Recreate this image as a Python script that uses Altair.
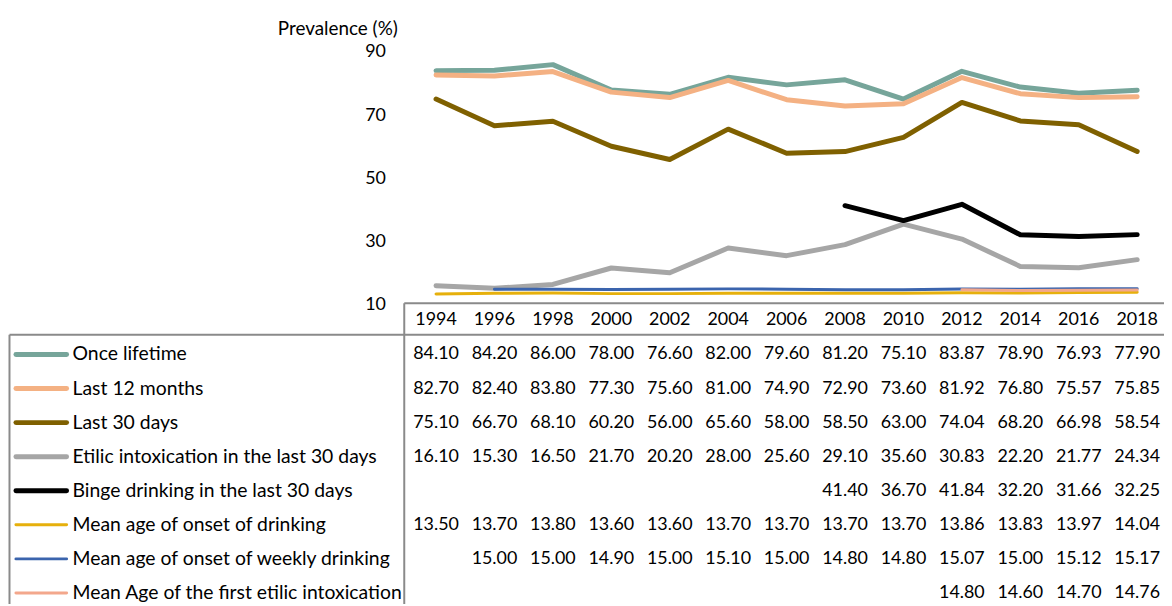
import altair as alt
import pandas as pd

# ---------------- data ----------------
years = [1994, 1996, 1998, 2000, 2002, 2004, 2006, 2008, 2010, 2012, 2014, 2016, 2018]

series_names = [
    "Once lifetime",
    "Last 12 months",
    "Last 30 days",
    "Etilic intoxication in the last 30 days",
    "Binge drinking in the last 30 days",
    "Mean age of onset of drinking",
    "Mean age of onset of weekly drinking",
    "Mean Age of the first etilic intoxication",
]

once_lifetime = [84.10, 84.20, 86.00, 78.00, 76.60, 82.00, 79.60, 81.20, 75.10, 83.87, 78.90, 76.93, 77.90]
last_12_months = [82.70, 82.40, 83.80, 77.30, 75.60, 81.00, 74.90, 72.90, 73.60, 81.92, 76.80, 75.57, 75.85]
last_30_days = [75.10, 66.70, 68.10, 60.20, 56.00, 65.60, 58.00, 58.50, 63.00, 74.04, 68.20, 66.98, 58.54]
etilic_30_days = [16.10, 15.30, 16.50, 21.70, 20.20, 28.00, 25.60, 29.10, 35.60, 30.83, 22.20, 21.77, 24.34]
binge_30_days = [None, None, None, None, None, None, None, 41.40, 36.70, 41.84, 32.20, 31.66, 32.25]
onset_drinking = [13.50, 13.70, 13.80, 13.60, 13.60, 13.70, 13.70, 13.70, 13.70, 13.86, 13.83, 13.97, 14.04]
onset_weekly = [None, 15.00, 15.00, 14.90, 15.00, 15.10, 15.00, 14.80, 14.80, 15.07, 15.00, 15.12, 15.17]
first_intoxication = [None, None, None, None, None, None, None, None, None, 14.80, 14.60, 14.70, 14.76]

series_values = [once_lifetime, last_12_months, last_30_days, etilic_30_days,
                 binge_30_days, onset_drinking, onset_weekly, first_intoxication]

series_colors = ["#76A59A", "#F4B183", "#7F6000", "#A6A6A6",
                 "#000000", "#E6B00C", "#3B64AD", "#F3A78C"]
series_widths = [5, 5, 5, 5, 5, 3, 3, 3]

y_ticks = [10, 30, 50, 70, 90]

# ---------------- tables ----------------
rows = []
for i, (name, vals) in enumerate(zip(series_names, series_values)):
    for yr, v in zip(years, vals):
        if v is not None:
            rows.append({"series": name, "year": yr, "value": v, "row": i + 1,
                         "w": series_widths[i]})
long_df = pd.DataFrame(rows)

legend_df = pd.DataFrame({"series": series_names,
                          "row": list(range(1, len(series_names) + 1)),
                          "w": series_widths})
header_df = pd.DataFrame({"year": years, "row": [0] * len(years)})

FONT = "Lato"
W, H = 1164, 598

x_scale = alt.Scale(domain=[1979.349, 2018.918], nice=False, zero=False)
y_scale = alt.Scale(domain=[-84.51, 103.25], nice=False, zero=False)
row_scale = alt.Scale(domain=[-9.111, 8.323], nice=False, zero=False, reverse=True)
color_scale = alt.Scale(domain=series_names, range=series_colors)

y_axis = alt.Axis(values=y_ticks, grid=False, domain=False, ticks=False, tickSize=0,
                  labelPadding=20, offset=-400, labelFont=FONT, labelFontSize=18,
                  labelColor="black", title="Prevalence (%)", titleAngle=0,
                  titleAlign="right", titleBaseline="middle", titleX=-8, titleY=19,
                  titleFont=FONT, titleFontSize=19, titleFontWeight="normal",
                  titleColor="black")

# ---------------- lines (one layer per series to keep draw order) ----------------
line_layers = []
for name in series_names:
    line_layers.append(
        alt.Chart(long_df).transform_filter(alt.datum.series == name)
        .mark_line(strokeCap="round", strokeJoin="round")
        .encode(
            x=alt.X("year:Q", scale=x_scale, axis=None),
            y=alt.Y("value:Q", scale=y_scale, axis=y_axis),
            color=alt.Color("series:N", scale=color_scale, legend=None),
            strokeWidth=alt.StrokeWidth("w:Q", scale=None, legend=None),
        )
    )
lines = alt.layer(*line_layers)

# ---------------- data table ----------------
text_kw = dict(font=FONT, fontSize=18, color="black", baseline="middle")

header_text = alt.Chart(header_df).mark_text(align="center", **text_kw).encode(
    x=alt.X("year:Q", scale=x_scale, axis=None),
    y=alt.Y("row:Q", scale=row_scale, axis=None),
    text=alt.Text("year:N"),
)

value_text = alt.Chart(long_df).mark_text(align="center", **text_kw).encode(
    x=alt.X("year:Q", scale=x_scale, axis=None),
    y=alt.Y("row:Q", scale=row_scale, axis=None),
    text=alt.Text("value:Q", format=".2f"),
)

legend_text = alt.Chart(legend_df).mark_text(
    align="left", font=FONT, fontSize=19.5, color="black", baseline="middle"
).encode(
    x=alt.value(65),
    y=alt.Y("row:Q", scale=row_scale, axis=None),
    text=alt.Text("series:N"),
)

legend_swatch = alt.Chart(legend_df).mark_rule(strokeCap="round").encode(
    x=alt.value(8), x2=alt.value(59),
    y=alt.Y("row:Q", scale=row_scale, axis=None),
    color=alt.Color("series:N", scale=color_scale, legend=None),
    strokeWidth=alt.StrokeWidth("w:Q", scale=None, legend=None),
)

border_df = pd.DataFrame({"k": [0]})
border_kw = dict(color="#8A8A8A", strokeWidth=2)
b_top = alt.Chart(border_df).mark_rule(**border_kw).encode(
    x=alt.value(399), x2=alt.value(W), y=alt.value(295.3))
b_mid = alt.Chart(border_df).mark_rule(**border_kw).encode(
    x=alt.value(1.5), x2=alt.value(W), y=alt.value(327))
b_vert = alt.Chart(border_df).mark_rule(**border_kw).encode(
    x=alt.value(399), y=alt.value(295.3), y2=alt.value(H))
b_left = alt.Chart(border_df).mark_rule(**border_kw).encode(
    x=alt.value(1.5), y=alt.value(327), y2=alt.value(H))

table = alt.layer(b_top, b_mid, b_vert, b_left,
                  header_text, value_text, legend_swatch, legend_text)

chart = (
    alt.layer(lines, table)
    .resolve_scale(y="independent")
    .properties(width=W, height=H, padding=0, autosize=alt.AutoSizeParams(type="none"))
    .configure(background="white")
    .configure_view(stroke=None)
)

chart.save("out.html", embed_options={"renderer": "svg", "actions": False})
